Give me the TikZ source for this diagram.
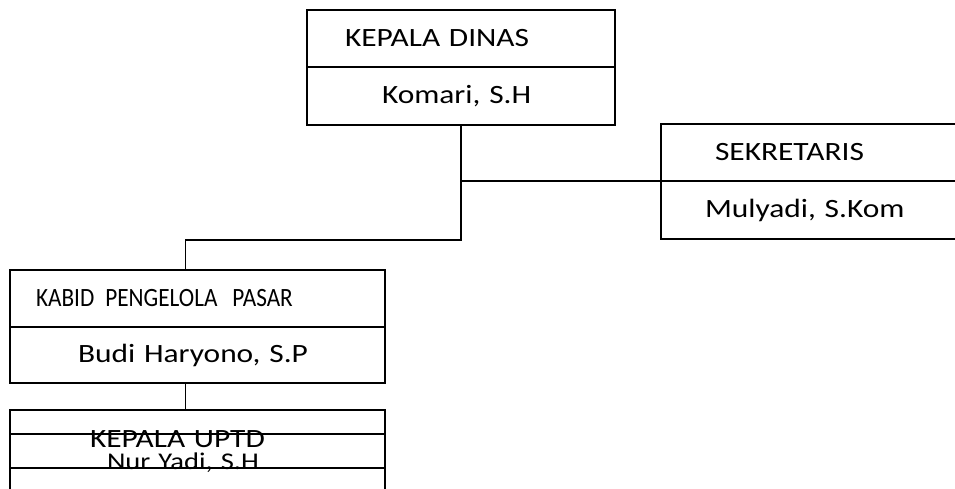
\documentclass[tikz,border=0pt]{standalone}
\usepackage{fontspec}
\setmainfont[FakeStretch=1.19]{Carlito}
\newfontfamily\narrowfont[FakeStretch=0.88]{Carlito}
\usetikzlibrary{positioning}
\tikzset{
  box/.style={draw, black, line width=1.6pt, rectangle, outer sep=0pt, inner ysep=0pt,
    align=left, minimum height=57pt, font=\fontsize{26.4}{30}\selectfont},
  link/.style={black, line width=1.6pt}
}
\begin{document}
\begin{tikzpicture}[x=1pt, y=1pt]
\useasboundingbox (0, 0) rectangle (955, 488);
\clip (0, 0) rectangle (955, 488);
% kepala dinas
\node [box, anchor=north west, inner xsep=38pt, text width=232pt] (dinas) at (307, 478) {KEPALA DINAS};
\node [box, below=0pt of dinas, inner xsep=75pt, text width=158pt, minimum height=58pt] (dinasName) {Komari, S.H};
% sekretaris
\node [box, anchor=north west, inner xsep=54pt, text width=231pt] (sekre) at (661, 364) {SEKRETARIS};
\node [box, below=0pt of sekre, inner xsep=44pt, text width=251pt, minimum height=58pt] (sekreName) {Mulyadi, S.Kom};
% kabid
\node [box, anchor=north west, inner xsep=26pt, text width=323pt] (kabid) at (10, 218)
  {\narrowfont KABID\hspace{11pt}PENGELOLA\hspace{15pt}PASAR};
\node [box, below=0pt of kabid, inner xsep=68pt, text width=239pt, minimum height=56pt] (kabidName) {Budi Haryono, S.P};
% uptd
\node [box, anchor=north west, inner xsep=80pt, text width=215pt, minimum height=58pt] (uptd) at (10, 78) {KEPALA UPTD};
\node [box, below=-34pt of uptd, inner xsep=97pt, text width=181pt, minimum height=58pt,
  font=\fontsize{24}{28}\selectfont] (uptdName) {Nur Yadi, S.H};
% garis
\draw [link] (dinasName.south) -- ++(0, -115) coordinate (elbow) -| ([xshift=-12pt]kabid.north);
\draw [link] (dinasName.south |- sekreName.north) -- (sekreName.north west);
\draw [link] ([xshift=-12pt]kabidName.south) -- ([xshift=-12pt]uptd.north);
\end{tikzpicture}
\end{document}
